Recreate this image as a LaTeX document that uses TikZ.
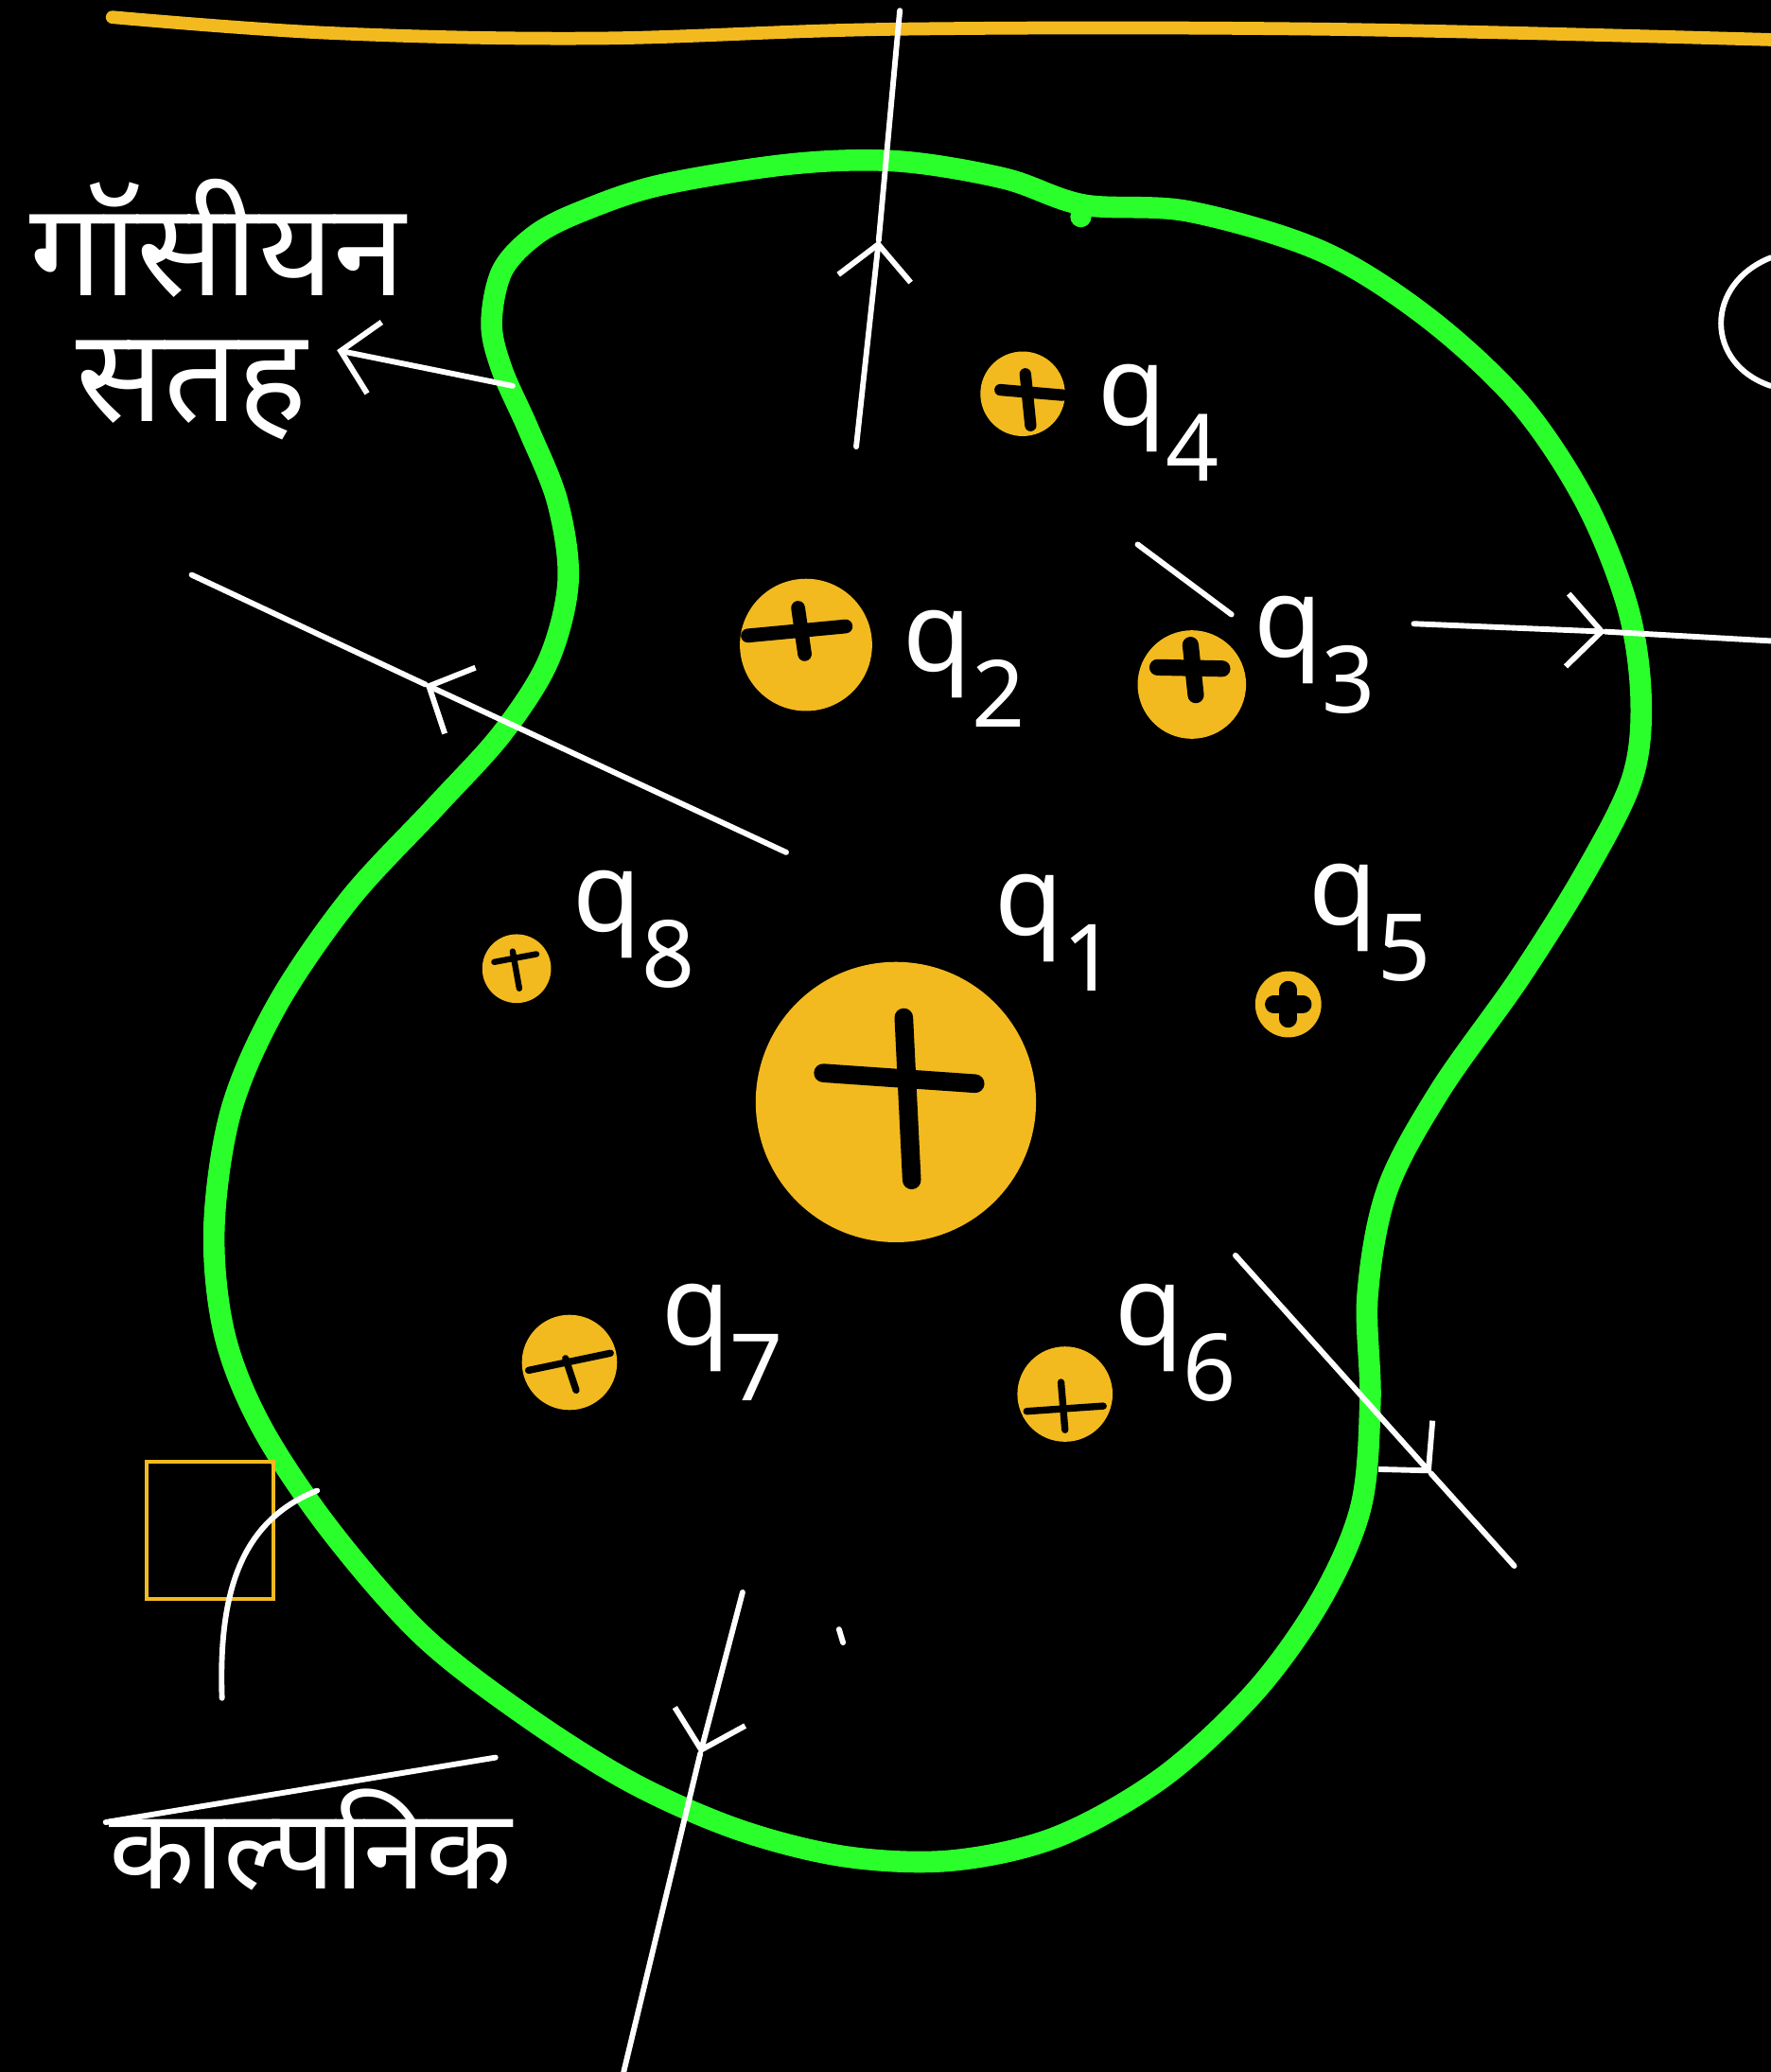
\documentclass[tikz,border=0pt]{standalone}
\usepackage{fontspec}
\setmainfont{Noto Sans}
\newfontfamily\devfont[Script=Devanagari]{Noto Sans}
\usepackage{tikz}
\usetikzlibrary{arrows.meta,positioning}
\definecolor{gaussGreen}{RGB}{43,255,43}
\definecolor{chargeOrange}{RGB}{242,186,30}
\definecolor{chalkWhite}{RGB}{255,255,255}
\newcommand{\chg}[1]{q\raisebox{-0.5em}{\fontsize{20}{20}\selectfont #1}}

\begin{document}
\begin{tikzpicture}[x=0.01cm,y=-0.01cm,
    field/.style={chalkWhite, line width=1.2pt, line cap=round},
    barb/.style={-{Straight Barb[length=2.6mm,width=5.5mm]}},
    charge/.style={circle, fill=chargeOrange, inner sep=0pt},
    plusbar/.style={black, line cap=round},
    qlabel/.style={text=chalkWhite, font=\fontsize{24}{28}\selectfont, inner sep=0pt, anchor=base west},
    hindi/.style={text=chalkWhite, font=\devfont\fontsize{28}{34}\selectfont, inner sep=0pt}]
    \fill[black] (0,0) rectangle (1340,1568);
    \useasboundingbox (0,0) rectangle (1340,1568);

    % top border line
    \draw[chargeOrange, line width=2.8pt, line cap=round] plot[smooth, tension=0.6]
        coordinates {(85,13) (250,25) (450,29) (680,22) (1000,22) (1340,30)};

    % gaussian surface
    \draw[gaussGreen, line width=4.6pt] plot[smooth cycle, tension=0.55] coordinates {
        (440,160) (500,140) (600,124) (680,122) (760,135) (820,155) (900,160)
        (1000,190) (1080,240) (1150,305) (1200,380) (1232,460) (1242,530)
        (1235,590) (1200,660) (1150,740) (1090,825) (1050,900) (1035,980)
        (1037,1060) (1030,1140) (1000,1210) (950,1280) (880,1345) (800,1390)
        (720,1408) (640,1405) (560,1385) (480,1350) (400,1300) (320,1238)
        (250,1158) (198,1080) (170,1010) (162,930) (175,840) (210,760)
        (265,680) (330,610) (380,555) (415,500) (430,440) (422,380) (400,325)
        (380,280) (372,245) (380,205) (405,178)};
    \fill[gaussGreen] (818,164) circle (8);

    % charges
    \node[charge, minimum size=2.12cm] (q1) at (678,834) {};
    \node[charge, minimum size=1.0cm] (q2) at (610,488) {};
    \node[charge, minimum size=0.82cm] (q3) at (902,518) {};
    \node[charge, minimum size=0.64cm] (q4) at (774,298) {};
    \node[charge, minimum size=0.50cm] (q5) at (975,760) {};
    \node[charge, minimum size=0.72cm] (q6) at (806,1055) {};
    \node[charge, minimum size=0.72cm] (q7) at (431,1031) {};
    \node[charge, minimum size=0.52cm] (q8) at (391,733) {};

    \draw[plusbar, line width=4pt] (623,812) -- (738,820) (684,770) -- (690,893);
    \draw[plusbar, line width=3pt] (566,481) -- (640,474) (604,460) -- (609,495);
    \draw[plusbar, line width=3.5pt] (876,505) -- (925,506) (901,488) -- (905,526);
    \draw[plusbar, line width=2.5pt] (757,295) -- (804,299) (776,283) -- (780,322);
    \draw[plusbar, line width=3.8pt] (964,760) -- (986,760) (975,749) -- (975,771);
    \draw[plusbar, line width=1.5pt] (777,1068) -- (835,1064) (803,1046) -- (806,1082);
    \draw[plusbar, line width=1.5pt] (400,1037) -- (462,1024) (428,1028) -- (436,1052);
    \draw[plusbar, line width=1.3pt] (374,728) -- (406,722) (388,720) -- (393,748);

    % charge labels
    \node[qlabel] (lq1) at (752,708) {\chg{1}};
    \node[qlabel] (lq2) at (683,508) {\chg{2}};
    \node[qlabel] (lq3) at (948,497) {\chg{3}};
    \node[qlabel] (lq4) at (830,322) {\chg{4}};
    \node[qlabel] (lq5) at (990,700) {\chg{5}};
    \node[qlabel] (lq6) at (843,1018) {\chg{6}};
    \node[qlabel] (lq7) at (500,1018) {\chg{7}};
    \node[qlabel] (lq8) at (433,705) {\chg{8}};
    \draw[field] (861,412) -- (932,465);

    % field lines
    \coordinate (t1) at (648,338); \coordinate (t1m) at (665,182); \coordinate (t1e) at (681,8);
    \draw[field, barb] (t1) -- (t1m);
    \draw[field] (t1m) -- (t1e);
    \coordinate (t2) at (595,645); \coordinate (t2m) at (322,518); \coordinate (t2e) at (145,435);
    \draw[field, barb] (t2) -- (t2m);
    \draw[field] (t2m) -- (t2e);
    \coordinate (t3) at (1070,472); \coordinate (t3m) at (1215,478); \coordinate (t3e) at (1340,485);
    \draw[field, barb] (t3) -- (t3m);
    \draw[field] (t3m) -- (t3e);
    \coordinate (t4) at (935,950); \coordinate (t4m) at (1083,1115); \coordinate (t4e) at (1146,1185);
    \draw[field, barb] (t4) -- (t4m);
    \draw[field] (t4m) -- (t4e);
    \coordinate (t5) at (562,1205); \coordinate (t5m) at (530,1327); \coordinate (t5e) at (472,1568);
    \draw[field, barb] (t5) -- (t5m);
    \draw[field] (t5m) -- (t5e);
    \draw[field] (635,1233) -- (638,1243);
    \draw[field] (1340,195) .. controls (1290,215) and (1290,275) .. (1340,292);

    % surface label
    \node[hindi] (gauss) at (165,180) {गॉसीयन};
    \node[hindi] (satah) at (145,295) {सतह};
    \coordinate (s1) at (388,292); \coordinate (s1e) at (255,265);
    \draw[field, barb] (s1) -- (s1e);

    % imaginary box
    \draw[chargeOrange, line width=0.9pt] (111,1106) rectangle (207,1210);
    \draw[field] (168,1285) .. controls (165,1200) and (185,1150) .. (240,1128);
    \node[hindi, font=\devfont\fontsize{24}{28}\selectfont] (kalpanik) at (235,1392) {काल्पनिक};
    \draw[field] (80,1379) -- (375,1330);
\end{tikzpicture}
\end{document}
